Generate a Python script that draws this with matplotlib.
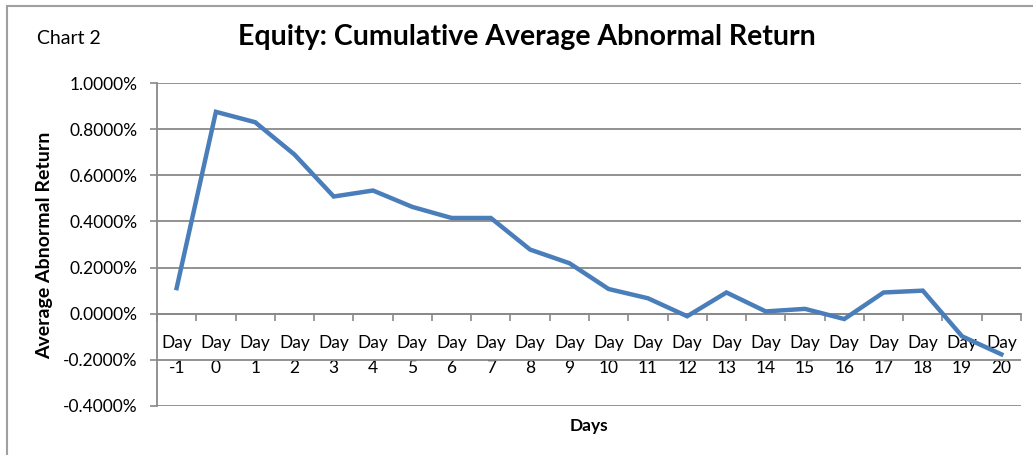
import matplotlib
matplotlib.use("Agg")
import matplotlib.pyplot as plt
from matplotlib.patches import Rectangle
from matplotlib.ticker import FixedLocator, FuncFormatter

plt.rcParams['font.family'] = ['Lato', 'DejaVu Sans']

day_nums = ['-1', '0', '1', '2', '3', '4', '5', '6', '7', '8', '9', '10',
            '11', '12', '13', '14', '15', '16', '17', '18', '19', '20']
# cumulative average abnormal return, in percent
caar = [0.111, 0.875, 0.830, 0.690, 0.508, 0.534, 0.463, 0.415, 0.415, 0.278,
        0.219, 0.107, 0.067, -0.011, 0.092, 0.010, 0.021, -0.023, 0.092, 0.100,
        -0.098, -0.176]
yticks = [-0.4, -0.2, 0.0, 0.2, 0.4, 0.6, 0.8, 1.0]

grid_col = '#898989'
ymin, ymax = -0.4, 1.0

fig = plt.figure(figsize=(10.33, 4.55), dpi=100)
ax = fig.add_axes([157 / 1033, 1 - 406 / 455, 864 / 1033, 323 / 455])

x = list(range(len(day_nums)))
ax.plot(x, caar, color='#4A7EBB', linewidth=3.2, solid_joinstyle='miter', zorder=3)

ax.set_xlim(-0.5, len(day_nums) - 0.5)
ax.set_ylim(ymin, ymax)
ax.set_yticks(yticks)
ax.yaxis.set_major_formatter(FuncFormatter(lambda v, p: f'{v:.4f}%'))
ax.grid(axis='y', color=grid_col, linewidth=1.3)
ax.set_axisbelow(True)
# day labels sit on top of the gridlines, under the data line
ax.xaxis.set_zorder(1)

# first label row: "Day", second row: the day number (Excel wraps the label)
ax.set_xticks(x)
ax.set_xticklabels(['Day'] * len(x))
ax.xaxis.set_minor_locator(FixedLocator([i - 0.5 for i in range(len(x) + 1)]))
ax.tick_params(axis='x', which='major', length=0, pad=15, labelsize=12.5)
ax.tick_params(axis='x', which='minor', length=5, width=1.2, color=grid_col, direction='out')
ax.tick_params(axis='y', length=5, width=1.2, color=grid_col, pad=9, labelsize=12.5)

sec = ax.secondary_xaxis((0 - ymin) / (ymax - ymin))
sec.set_xticks(x)
sec.set_xticklabels(day_nums)
sec.tick_params(axis='x', length=0, pad=33, labelsize=12.5)
sec.spines['bottom'].set_visible(False)

for s in ['top', 'right']:
    ax.spines[s].set_visible(False)
ax.spines['bottom'].set_position(('data', 0))
ax.spines['bottom'].set_color(grid_col)
ax.spines['bottom'].set_linewidth(1.3)
ax.spines['left'].set_color(grid_col)
ax.spines['left'].set_linewidth(1.3)

fig.text(45 / 1033, 1 - 245 / 455, 'Average Abnormal Return', rotation=90,
         ha='center', va='center', fontsize=14, fontweight='bold')
fig.text(589 / 1033, 1 - 426 / 455, 'Days', ha='center', va='center',
         fontsize=12.5, fontweight='bold')
fig.text(527 / 1033, 1 - 37 / 455, 'Equity: Cumulative Average Abnormal Return',
         ha='center', va='center', fontsize=20.5, fontweight='bold')
fig.text(37 / 1033, 1 - 38 / 455, 'Chart 2', ha='left', va='center', fontsize=14)

fig.patches.append(Rectangle((7 / 1033, -0.05), 1.1, 1 - 6 / 455 + 0.05,
                             transform=fig.transFigure, fill=False,
                             edgecolor='#a0a0a0', linewidth=1.5))

fig.savefig('out.png', dpi=100)
